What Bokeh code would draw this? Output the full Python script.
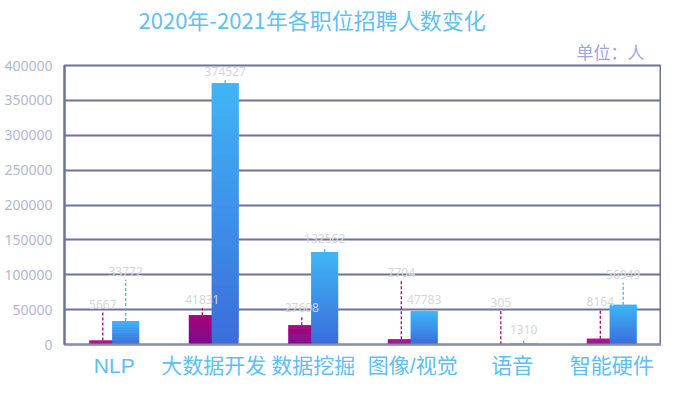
import numpy as np
from bokeh.plotting import figure
from bokeh.models import ColumnDataSource, Title, FixedTicker, BasicTickFormatter, Range1d
from bokeh.transform import dodge
from bokeh.core.properties import value
from bokeh.embed import file_html
from bokeh.resources import INLINE

# ---------------- data ----------------
categories = ["NLP", "大数据开发", "数据挖掘", "图像/视觉", "语音", "智能硬件"]
values_2020 = [5667, 41831, 27608, 7704, 305, 8164]
values_2021 = [33772, 374527, 132562, 47783, 1310, 56949]
# height (in data units) at which each value label is written
label_y_2020 = [58000, 64000, 52500, 103500, 59500, 61000]
label_y_2021 = [105000, 392000, 152000, 64000, 21000, 100500]
y_ticks = [0, 50000, 100000, 150000, 200000, 250000, 300000, 350000, 400000]

# ---------------- style ----------------
CJK = "Noto Sans CJK SC"
XFONT = "'Liberation Sans', 'Noto Sans CJK SC'"
TITLE_COLOR = "#5ec1f2"
UNIT_COLOR = "#9aa6dc"
YTICK_COLOR = "#b3b8cd"
XLABEL_COLOR = "#5cc0f2"
VALUE_COLOR = "#d6d6d6"
GRID_COLOR = "#6f7396"
PURPLE_BOTTOM, PURPLE_TOP = "#7b0b8d", "#a6057a"
BLUE_BOTTOM, BLUE_TOP = "#3b6cdb", "#3fb6f7"
BAR_W = 0.27
OFF = 0.115
LEADER_GAP = 12000


def _rgb(h):
    h = h.lstrip("#")
    return [int(h[i:i + 2], 16) for i in (0, 2, 4)]


def _mix(c0, c1, t):
    a, b = _rgb(c0), _rgb(c1)
    return "#%02x%02x%02x" % tuple(int(round(a[k] + (b[k] - a[k]) * t)) for k in range(3))


def gradient_source(cats, vals, c_bottom, c_top, n=40):
    # each bar is split into n slices of graded colour; slices overlap the
    # next one slightly so that no seams show
    cat, bottom, top, color = [], [], [], []
    for c, v in zip(cats, vals):
        for i in range(n):
            cat.append(c)
            bottom.append(v * i / n)
            top.append(min(v, v * (i + 2) / n))
            color.append(_mix(c_bottom, c_top, (i + 0.5) / n))
    return ColumnDataSource(dict(cat=cat, bottom=bottom, top=top, color=color))


def label_source(cats, vals, label_y):
    return ColumnDataSource(dict(
        cat=cats,
        v=vals,
        ly=label_y,
        lt=[max(v, ly - LEADER_GAP) for v, ly in zip(vals, label_y)],
        txt=[str(v) for v in vals],
    ))


p = figure(
    x_range=categories,
    y_range=Range1d(0, 400000),
    width=661, height=379,
    output_backend="svg", toolbar_location=None,
    min_border_left=64, min_border_right=0, min_border_bottom=0, min_border_top=0,
    background_fill_color="white", border_fill_color="white",
)

# titles
unit = Title(text="单位：人", align="right", offset=17, standoff=4,
             text_font=CJK, text_font_size="17px", text_font_style="normal",
             text_color=UNIT_COLOR)
p.add_layout(unit, "above")
main = Title(text="2020年-2021年各职位招聘人数变化", align="left", offset=74, standoff=0,
             text_font=CJK, text_font_size="22px", text_font_style="normal",
             text_color=TITLE_COLOR)
p.add_layout(main, "above")

# frame / grid
p.outline_line_color = GRID_COLOR
p.outline_line_width = 2
p.xgrid.grid_line_color = None
p.ygrid.grid_line_color = GRID_COLOR
p.ygrid.grid_line_width = 2

# y axis
p.yaxis.ticker = FixedTicker(ticks=y_ticks)
p.yaxis.formatter = BasicTickFormatter(use_scientific=False)
p.yaxis.major_tick_line_color = None
p.yaxis.minor_tick_line_color = None
p.yaxis.major_tick_out = 0
p.yaxis.major_tick_in = 0
p.yaxis.minor_tick_out = 0
p.yaxis.axis_line_color = GRID_COLOR
p.yaxis.axis_line_width = 2
p.yaxis.major_label_text_font = "Noto Sans"
p.yaxis.major_label_text_font_size = "14px"
p.yaxis.major_label_text_color = YTICK_COLOR
p.yaxis.major_label_standoff = 12

# x axis
p.xaxis.major_tick_line_color = None
p.xaxis.minor_tick_line_color = None
p.xaxis.major_tick_out = 0
p.xaxis.major_tick_in = 0
p.xaxis.minor_tick_out = 0
p.xaxis.axis_line_color = "#8a8fae"
p.xaxis.axis_line_width = 2
p.xaxis.axis_label = None
p.xaxis.axis_label_standoff = 0
p.xaxis.major_label_text_font = XFONT
p.xaxis.major_label_text_font_size = "21px"
p.xaxis.major_label_text_color = XLABEL_COLOR
p.xaxis.major_label_standoff = 9

p.x_range.range_padding = 0

# bars (gradient built from stacked slices of each bar)
src20 = gradient_source(categories, values_2020, PURPLE_BOTTOM, PURPLE_TOP)
src21 = gradient_source(categories, values_2021, BLUE_BOTTOM, BLUE_TOP)
p.vbar(x=dodge("cat", -OFF, range=p.x_range), width=BAR_W, bottom="bottom", top="top",
       fill_color="color", line_color=None, source=src20)
p.vbar(x=dodge("cat", OFF, range=p.x_range), width=BAR_W, bottom="bottom", top="top",
       fill_color="color", line_color=None, source=src21)

# leader lines + value labels
l20 = label_source(categories, values_2020, label_y_2020)
l21 = label_source(categories, values_2021, label_y_2021)
for src, off, col in ((l20, -OFF, "#a0067c"), (l21, OFF, BLUE_TOP)):
    p.segment(x0=dodge("cat", off, range=p.x_range), y0="v",
              x1=dodge("cat", off, range=p.x_range), y1="lt",
              line_color=col, line_width=1.3, line_dash="3 2", source=src)
    p.text(x=dodge("cat", off, range=p.x_range), y="ly", text="txt", source=src,
           text_align="center", text_baseline="middle",
           text_font=value("Noto Sans"), text_font_size="12px", text_color=VALUE_COLOR)

open("out.html", "w").write(file_html(p, INLINE))
